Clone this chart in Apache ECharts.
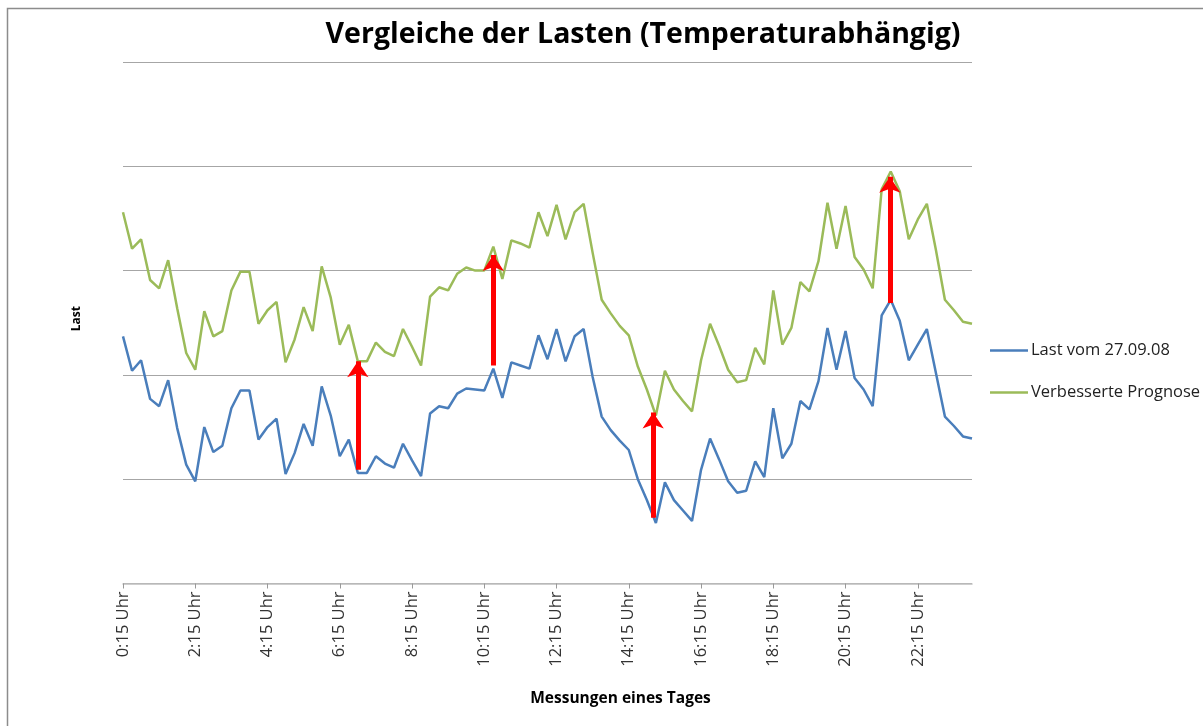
<!DOCTYPE html>
<html>
<head>
<meta charset="utf-8">
<title>Vergleiche der Lasten</title>
<script src="https://cdn.jsdelivr.net/npm/echarts@6/dist/echarts.min.js"></script>
<style>
  html, body { margin: 0; padding: 0; background: #fff; }
  #main { width: 1203px; height: 726px; }
</style>
</head>
<body>
<div id="main"></div>
<script>
// Messzeitpunkte 0:15 .. 23:45 Uhr (Viertelstunden)
var zeiten = [];
for (var m = 15; m < 24 * 60; m += 15) {
    var h = Math.floor(m / 60), mm = m % 60;
    zeiten.push(h + ":" + (mm < 10 ? "0" + mm : mm) + " Uhr");
}

var lastWerte = [
    237, 204, 214, 177, 170, 195, 149, 114, 98, 150,
    126, 132, 168, 185, 185, 138, 150, 158, 105, 125,
    153, 132, 189, 161, 122, 138, 106, 106, 122, 115,
    111, 134, 118, 103, 163, 170, 168, 182, 187, 186,
    185, 206, 178, 212, 209, 206, 238, 215, 244, 213,
    237, 244, 198, 160, 147, 137, 128, 100, 80, 58,
    97, 80, 70, 60, 109, 139, 119, 98, 87, 89,
    117, 102, 168, 120, 134, 175, 167, 194, 245, 205,
    242, 197, 186, 170, 257, 272, 252, 214, 229, 244,
    202, 160, 151, 141, 139
];
var prognoseWerte = [
    356, 321, 330, 291, 283, 310, 264, 221, 205, 261,
    237, 242, 281, 299, 299, 249, 262, 270, 212, 234,
    265, 242, 304, 274, 229, 248, 213, 213, 231, 222,
    218, 244, 227, 209, 275, 284, 281, 297, 303, 300,
    300, 323, 292, 329, 326, 322, 356, 333, 363, 330,
    356, 364, 317, 272, 259, 247, 238, 208, 186, 161,
    204, 186, 175, 165, 214, 249, 228, 205, 193, 195,
    226, 210, 281, 229, 245, 289, 280, 309, 365, 321,
    362, 313, 301, 283, 378, 395, 376, 330, 349, 364,
    320, 272, 262, 251, 249
];

// rote Pfeile: [Index, von, bis]
var pfeile = [
    [26, 109, 213],
    [41, 209, 315],
    [58.7, 63, 164],
    [84.9, 269, 390]
];

var myChart = echarts.init(document.getElementById("main"));

var pfeilDaten = pfeile.map(function (p) {
    return { coords: [[p[0], p[1]], [p[0], p[2]]] };
});

var schrift = "'Open Sans', sans-serif";

var option = {
    backgroundColor: "#fff",
    animation: false,
    textStyle: { fontFamily: schrift },
    title: {
        text: "Vergleiche der Lasten (Temperaturabhängig)",
        left: 638,
        textAlign: "center",
        top: 15,
        textStyle: { fontSize: 28.5, fontWeight: "bold", color: "#000", fontFamily: schrift }
    },
    legend: {
        orient: "vertical",
        left: 985,
        top: 337,
        icon: "rect",
        itemWidth: 38,
        itemHeight: 2.5,
        itemGap: 25,
        data: ["Last vom 27.09.08", "Verbesserte Prognose"],
        textStyle: { fontSize: 16.5, color: "#222", padding: [0, 0, 0, -2] }
    },
    grid: { left: 123, right: 231, top: 62, bottom: 142.5, containLabel: false },
    xAxis: [{
        type: "category",
        data: zeiten,
        boundaryGap: false,
        name: "Messungen eines Tages",
        nameLocation: "middle",
        nameGap: 107,
        nameTextStyle: { fontSize: 15.5, fontWeight: "bold", color: "#000", padding: [0, 0, 0, 146] },
        axisLine: { lineStyle: { color: "#bfbfbf", width: 1.5 } },
        axisTick: { interval: 7, length: 5, lineStyle: { color: "#999" } },
        axisLabel: { interval: 7, rotate: 90, fontSize: 16.5, color: "#333", margin: 8 },
        splitLine: { show: false }
    }, {
        type: "value",
        min: 0,
        max: 94,
        show: false
    }],
    yAxis: {
        type: "value",
        min: 0,
        max: 500,
        interval: 100,
        name: "Last",
        nameLocation: "middle",
        nameGap: 40,
        nameRotate: 90,
        nameTextStyle: { fontSize: 12, fontWeight: "bold", color: "#000", padding: [0, 0, 0, 8] },
        axisLine: { show: false },
        axisTick: { show: false },
        axisLabel: { show: false },
        splitLine: { lineStyle: { color: "#a6a6a6", width: 1.2 } }
    },
    series: [
        {
            name: "Last vom 27.09.08",
            type: "line",
            data: lastWerte,
            symbol: "none",
            lineStyle: { color: "#4a7ebb", width: 2.5 },
            itemStyle: { color: "#4a7ebb" }
        },
        {
            name: "Verbesserte Prognose",
            type: "line",
            data: prognoseWerte,
            symbol: "none",
            lineStyle: { color: "#9bbb59", width: 2.5 },
            itemStyle: { color: "#9bbb59" }
        },
        {
            name: "Pfeile",
            type: "lines",
            coordinateSystem: "cartesian2d",
            xAxisIndex: 1,
            yAxisIndex: 0,
            symbol: ["none", "arrow"],
            symbolSize: 16,
            lineStyle: { color: "#ff0000", width: 5, opacity: 1 },
            data: pfeilDaten,
            z: 5
        }
    ],
    graphic: [{
        type: "rect",
        shape: { x: 7.5, y: 8.5, width: 1210, height: 730 },
        style: { fill: null, stroke: "#8c8c8c", lineWidth: 1.5 },
        silent: true,
        z: -1
    }]
};

myChart.setOption(option);
window.addEventListener("resize", function () {
    myChart.resize();
});
</script>
</body>
</html>
